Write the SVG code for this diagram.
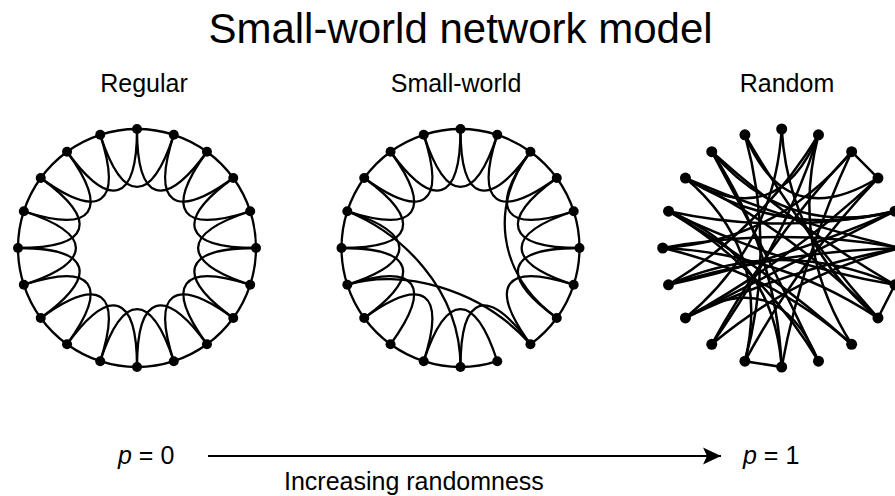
<svg xmlns="http://www.w3.org/2000/svg" width="895" height="496" viewBox="0 0 895 496">
<style>
.e{fill:none;stroke:#000;stroke-width:2.3;stroke-linecap:round}
.r{fill:none;stroke:#000;stroke-width:2.5;stroke-linecap:round}
.n{fill:#000}
.t{font-family:"Liberation Sans",Arial,Helvetica,sans-serif;fill:#000}
</style>
<defs>
<marker id="ah" markerUnits="userSpaceOnUse" markerWidth="20" markerHeight="18" refX="18" refY="9" orient="auto">
<path d="M0,0.5 L18,9 L0,17.5 L4,9 Z" fill="#000"/>
</marker>
</defs>
<rect width="895" height="496" fill="#fff"/>
<text class="t" x="460.5" y="43" font-size="42" text-anchor="middle">Small-world network model</text>
<text class="t" x="144" y="92" font-size="25" text-anchor="middle">Regular</text>
<text class="t" x="456" y="92" font-size="25" text-anchor="middle">Small-world</text>
<text class="t" x="787" y="92" font-size="25" text-anchor="middle">Random</text>

<!-- Regular -->
<g id="regular" transform="translate(137,248)">
<g id="regular-edges">
<path class="e" d="M0,-119 A119,119 0 0 1 36.77,-113.18"/>
<path class="e" d="M36.77,-113.18 A119,119 0 0 1 69.95,-96.27"/>
<path class="e" d="M69.95,-96.27 A119,119 0 0 1 96.27,-69.95"/>
<path class="e" d="M96.27,-69.95 A119,119 0 0 1 113.18,-36.77"/>
<path class="e" d="M113.18,-36.77 A119,119 0 0 1 119,0"/>
<path class="e" d="M119,0 A119,119 0 0 1 113.18,36.77"/>
<path class="e" d="M113.18,36.77 A119,119 0 0 1 96.27,69.95"/>
<path class="e" d="M96.27,69.95 A119,119 0 0 1 69.95,96.27"/>
<path class="e" d="M69.95,96.27 A119,119 0 0 1 36.77,113.18"/>
<path class="e" d="M36.77,113.18 A119,119 0 0 1 0,119"/>
<path class="e" d="M0,119 A119,119 0 0 1 -36.77,113.18"/>
<path class="e" d="M-36.77,113.18 A119,119 0 0 1 -69.95,96.27"/>
<path class="e" d="M-69.95,96.27 A119,119 0 0 1 -96.27,69.95"/>
<path class="e" d="M-96.27,69.95 A119,119 0 0 1 -113.18,36.77"/>
<path class="e" d="M-113.18,36.77 A119,119 0 0 1 -119,0"/>
<path class="e" d="M-119,0 A119,119 0 0 1 -113.18,-36.77"/>
<path class="e" d="M-113.18,-36.77 A119,119 0 0 1 -96.27,-69.95"/>
<path class="e" d="M-96.27,-69.95 A119,119 0 0 1 -69.95,-96.27"/>
<path class="e" d="M-69.95,-96.27 A119,119 0 0 1 -36.77,-113.18"/>
<path class="e" d="M-36.77,-113.18 A119,119 0 0 1 0,-119"/>
<path class="e" d="M0,-119 C0,-46 27.04,-37.21 69.95,-96.27"/>
<path class="e" d="M36.77,-113.18 C14.22,-43.75 37.21,-27.04 96.27,-69.95"/>
<path class="e" d="M69.95,-96.27 C27.04,-37.21 43.75,-14.22 113.18,-36.77"/>
<path class="e" d="M96.27,-69.95 C37.21,-27.04 46,0 119,0"/>
<path class="e" d="M113.18,-36.77 C43.75,-14.22 43.75,14.22 113.18,36.77"/>
<path class="e" d="M119,0 C46,0 37.21,27.04 96.27,69.95"/>
<path class="e" d="M113.18,36.77 C43.75,14.22 27.04,37.21 69.95,96.27"/>
<path class="e" d="M96.27,69.95 C37.21,27.04 14.22,43.75 36.77,113.18"/>
<path class="e" d="M69.95,96.27 C27.04,37.21 0,46 0,119"/>
<path class="e" d="M36.77,113.18 C14.22,43.75 -14.22,43.75 -36.77,113.18"/>
<path class="e" d="M0,119 C0,46 -27.04,37.21 -69.95,96.27"/>
<path class="e" d="M-36.77,113.18 C-14.22,43.75 -37.21,27.04 -96.27,69.95"/>
<path class="e" d="M-69.95,96.27 C-27.04,37.21 -43.75,14.22 -113.18,36.77"/>
<path class="e" d="M-96.27,69.95 C-37.21,27.04 -46,0 -119,0"/>
<path class="e" d="M-113.18,36.77 C-43.75,14.22 -43.75,-14.22 -113.18,-36.77"/>
<path class="e" d="M-119,0 C-46,0 -37.21,-27.04 -96.27,-69.95"/>
<path class="e" d="M-113.18,-36.77 C-43.75,-14.22 -27.04,-37.21 -69.95,-96.27"/>
<path class="e" d="M-96.27,-69.95 C-37.21,-27.04 -14.22,-43.75 -36.77,-113.18"/>
<path class="e" d="M-69.95,-96.27 C-27.04,-37.21 0,-46 0,-119"/>
<path class="e" d="M-36.77,-113.18 C-14.22,-43.75 14.22,-43.75 36.77,-113.18"/>
</g>
<g id="reg-n0"><circle class="n" cx="0" cy="-119" r="5"/></g>
<g id="reg-n1"><circle class="n" cx="36.77" cy="-113.18" r="5"/></g>
<g id="reg-n2"><circle class="n" cx="69.95" cy="-96.27" r="5"/></g>
<g id="reg-n3"><circle class="n" cx="96.27" cy="-69.95" r="5"/></g>
<g id="reg-n4"><circle class="n" cx="113.18" cy="-36.77" r="5"/></g>
<g id="reg-n5"><circle class="n" cx="119" cy="0" r="5"/></g>
<g id="reg-n6"><circle class="n" cx="113.18" cy="36.77" r="5"/></g>
<g id="reg-n7"><circle class="n" cx="96.27" cy="69.95" r="5"/></g>
<g id="reg-n8"><circle class="n" cx="69.95" cy="96.27" r="5"/></g>
<g id="reg-n9"><circle class="n" cx="36.77" cy="113.18" r="5"/></g>
<g id="reg-n10"><circle class="n" cx="0" cy="119" r="5"/></g>
<g id="reg-n11"><circle class="n" cx="-36.77" cy="113.18" r="5"/></g>
<g id="reg-n12"><circle class="n" cx="-69.95" cy="96.27" r="5"/></g>
<g id="reg-n13"><circle class="n" cx="-96.27" cy="69.95" r="5"/></g>
<g id="reg-n14"><circle class="n" cx="-113.18" cy="36.77" r="5"/></g>
<g id="reg-n15"><circle class="n" cx="-119" cy="0" r="5"/></g>
<g id="reg-n16"><circle class="n" cx="-113.18" cy="-36.77" r="5"/></g>
<g id="reg-n17"><circle class="n" cx="-96.27" cy="-69.95" r="5"/></g>
<g id="reg-n18"><circle class="n" cx="-69.95" cy="-96.27" r="5"/></g>
<g id="reg-n19"><circle class="n" cx="-36.77" cy="-113.18" r="5"/></g>
</g>

<!-- Small-world -->
<g id="smallworld" transform="translate(460.5,248)">
<g id="smallworld-edges">
<path class="e" d="M0,-119 A119,119 0 0 1 36.77,-113.18"/>
<path class="e" d="M36.77,-113.18 A119,119 0 0 1 69.95,-96.27"/>
<path class="e" d="M69.95,-96.27 A119,119 0 0 1 96.27,-69.95"/>
<path class="e" d="M96.27,-69.95 A119,119 0 0 1 113.18,-36.77"/>
<path class="e" d="M113.18,-36.77 A119,119 0 0 1 119,0"/>
<path class="e" d="M119,0 A119,119 0 0 1 113.18,36.77"/>
<path class="e" d="M113.18,36.77 A119,119 0 0 1 96.27,69.95"/>
<path class="e" d="M96.27,69.95 A119,119 0 0 1 69.95,96.27"/>
<path class="e" d="M36.77,113.18 A119,119 0 0 1 0,119"/>
<path class="e" d="M0,119 A119,119 0 0 1 -36.77,113.18"/>
<path class="e" d="M-36.77,113.18 A119,119 0 0 1 -69.95,96.27"/>
<path class="e" d="M-69.95,96.27 A119,119 0 0 1 -96.27,69.95"/>
<path class="e" d="M-96.27,69.95 A119,119 0 0 1 -113.18,36.77"/>
<path class="e" d="M-113.18,36.77 A119,119 0 0 1 -119,0"/>
<path class="e" d="M-119,0 A119,119 0 0 1 -113.18,-36.77"/>
<path class="e" d="M-113.18,-36.77 A119,119 0 0 1 -96.27,-69.95"/>
<path class="e" d="M-96.27,-69.95 A119,119 0 0 1 -69.95,-96.27"/>
<path class="e" d="M-69.95,-96.27 A119,119 0 0 1 -36.77,-113.18"/>
<path class="e" d="M-36.77,-113.18 A119,119 0 0 1 0,-119"/>
<path class="e" d="M0,-119 C0,-46 27.04,-37.21 69.95,-96.27"/>
<path class="e" d="M36.77,-113.18 C14.22,-43.75 37.21,-27.04 96.27,-69.95"/>
<path class="e" d="M69.95,-96.27 C27.04,-37.21 43.75,-14.22 113.18,-36.77"/>
<path class="e" d="M96.27,-69.95 C37.21,-27.04 46,0 119,0"/>
<path class="e" d="M113.18,-36.77 C43.75,-14.22 43.75,14.22 113.18,36.77"/>
<path class="e" d="M119,0 C46,0 37.21,27.04 96.27,69.95"/>
<path class="e" d="M113.18,36.77 C43.75,14.22 27.04,37.21 69.95,96.27"/>
<path class="e" d="M69.95,96.27 C27.04,37.21 0,46 0,119"/>
<path class="e" d="M36.77,113.18 C14.22,43.75 -14.22,43.75 -36.77,113.18"/>
<path class="e" d="M-36.77,113.18 C-14.22,43.75 -37.21,27.04 -96.27,69.95"/>
<path class="e" d="M-69.95,96.27 C-27.04,37.21 -43.75,14.22 -113.18,36.77"/>
<path class="e" d="M-96.27,69.95 C-37.21,27.04 -46,0 -119,0"/>
<path class="e" d="M-113.18,36.77 C-43.75,14.22 -43.75,-14.22 -113.18,-36.77"/>
<path class="e" d="M-119,0 C-46,0 -37.21,-27.04 -96.27,-69.95"/>
<path class="e" d="M-113.18,-36.77 C-43.75,-14.22 -27.04,-37.21 -69.95,-96.27"/>
<path class="e" d="M-96.27,-69.95 C-37.21,-27.04 -14.22,-43.75 -36.77,-113.18"/>
<path class="e" d="M-69.95,-96.27 C-27.04,-37.21 0,-46 0,-119"/>
<path class="e" d="M-36.77,-113.18 C-14.22,-43.75 14.22,-43.75 36.77,-113.18"/>
<path class="e" d="M-113.18,36.77 C-60,20 20,40 69.95,96.27"/>
<path class="e" d="M-113.18,-36.77 C-60,-15 0,40 0,119"/>
<path class="e" d="M69.95,-96.27 C30,-45 35,25 96.27,69.95"/>
</g>
<g id="sw-n0"><circle class="n" cx="0" cy="-119" r="5"/></g>
<g id="sw-n1"><circle class="n" cx="36.77" cy="-113.18" r="5"/></g>
<g id="sw-n2"><circle class="n" cx="69.95" cy="-96.27" r="5"/></g>
<g id="sw-n3"><circle class="n" cx="96.27" cy="-69.95" r="5"/></g>
<g id="sw-n4"><circle class="n" cx="113.18" cy="-36.77" r="5"/></g>
<g id="sw-n5"><circle class="n" cx="119" cy="0" r="5"/></g>
<g id="sw-n6"><circle class="n" cx="113.18" cy="36.77" r="5"/></g>
<g id="sw-n7"><circle class="n" cx="96.27" cy="69.95" r="5"/></g>
<g id="sw-n8"><circle class="n" cx="69.95" cy="96.27" r="5"/></g>
<g id="sw-n9"><circle class="n" cx="36.77" cy="113.18" r="5"/></g>
<g id="sw-n10"><circle class="n" cx="0" cy="119" r="5"/></g>
<g id="sw-n11"><circle class="n" cx="-36.77" cy="113.18" r="5"/></g>
<g id="sw-n12"><circle class="n" cx="-69.95" cy="96.27" r="5"/></g>
<g id="sw-n13"><circle class="n" cx="-96.27" cy="69.95" r="5"/></g>
<g id="sw-n14"><circle class="n" cx="-113.18" cy="36.77" r="5"/></g>
<g id="sw-n15"><circle class="n" cx="-119" cy="0" r="5"/></g>
<g id="sw-n16"><circle class="n" cx="-113.18" cy="-36.77" r="5"/></g>
<g id="sw-n17"><circle class="n" cx="-96.27" cy="-69.95" r="5"/></g>
<g id="sw-n18"><circle class="n" cx="-69.95" cy="-96.27" r="5"/></g>
<g id="sw-n19"><circle class="n" cx="-36.77" cy="-113.18" r="5"/></g>
</g>

<!-- Random -->
<g id="random" transform="translate(781.7,248)">
<g id="random-edges">
<path class="r" d="M69.95,-96.27 L96.27,-69.95"/>
<path class="r" d="M0,119 L-36.77,113.18"/>
<path class="r" d="M113.18,36.77 L96.27,69.95"/>
<path class="r" d="M0,-119 Q-7.22,-3.68 -96.27,69.95"/>
<path class="r" d="M0,-119 Q7.22,-3.68 96.27,69.95"/>
<path class="r" d="M36.77,-113.18 Q-20,-20 -113.18,36.77"/>
<path class="r" d="M36.77,-113.18 Q5,-10 -69.95,96.27"/>
<path class="r" d="M36.77,-113.18 Q-4.46,-13.73 -96.27,-69.95"/>
<path class="r" d="M36.77,-113.18 Q8,-1.27 69.95,96.27"/>
<path class="r" d="M-36.77,-113.18 Q4.46,-13.73 96.27,-69.95"/>
<path class="r" d="M-36.77,-113.18 Q20,-15 96.27,69.95"/>
<path class="r" d="M-36.77,-113.18 Q-5.52,0 -36.77,113.18"/>
<path class="r" d="M-69.95,-96.27 Q-15,5 36.77,113.18"/>
<path class="r" d="M-69.95,-96.27 Q15,-20 113.18,36.77"/>
<path class="r" d="M-69.95,-96.27 Q-5.25,1.7 0,119"/>
<path class="r" d="M-69.95,-96.27 Q3.24,-9.98 113.18,-36.77"/>
<path class="r" d="M-96.27,-69.95 Q12,-17 96.27,69.95"/>
<path class="r" d="M-96.27,-69.95 Q1.27,-8 113.18,-36.77"/>
<path class="r" d="M-96.27,-69.95 Q10,-25 119,0"/>
<path class="r" d="M-96.27,-69.95 Q-9.98,3.24 -36.77,113.18"/>
<path class="r" d="M-113.18,-36.77 Q0,-12 113.18,-36.77"/>
<path class="r" d="M-113.18,-36.77 Q0,18 113.18,36.77"/>
<path class="r" d="M-113.18,-36.77 Q-8.49,6.17 0,119"/>
<path class="r" d="M-113.18,-36.77 Q-20,18 36.77,113.18"/>
<path class="r" d="M-113.18,-36.77 Q-15,20 69.95,96.27"/>
<path class="r" d="M-119,0 Q0,-22 119,0"/>
<path class="r" d="M-119,0 Q-3.68,-7.22 69.95,-96.27"/>
<path class="r" d="M-119,0 Q-10,25 69.95,96.27"/>
<path class="r" d="M-119,0 Q-1.7,5.25 96.27,69.95"/>
<path class="r" d="M-113.18,36.77 Q0.44,2.76 119,0"/>
<path class="r" d="M-113.18,36.77 Q0,-13 113.18,36.77"/>
<path class="r" d="M-113.18,36.77 Q3.7,11.4 113.18,-36.77"/>
<path class="r" d="M-96.27,69.95 Q8.8,12.1 96.27,-69.95"/>
<path class="r" d="M-96.27,69.95 Q10,15 113.18,-36.77"/>
<path class="r" d="M-96.27,69.95 Q-4.46,13.73 36.77,113.18"/>
<path class="r" d="M-96.27,69.95 Q8,20 119,0"/>
<path class="r" d="M-69.95,96.27 Q-12.1,-8.8 69.95,-96.27"/>
<path class="r" d="M-69.95,96.27 Q15,25 119,0"/>
<path class="r" d="M-36.77,113.18 Q18,12 96.27,-69.95"/>
<path class="r" d="M0,119 Q20,10 69.95,-96.27"/>
</g>
<g id="rnd-n0"><circle class="n" cx="0" cy="-119" r="5.5"/></g>
<g id="rnd-n1"><circle class="n" cx="36.77" cy="-113.18" r="5.5"/></g>
<g id="rnd-n2"><circle class="n" cx="69.95" cy="-96.27" r="5.5"/></g>
<g id="rnd-n3"><circle class="n" cx="96.27" cy="-69.95" r="5.5"/></g>
<g id="rnd-n4"><circle class="n" cx="113.18" cy="-36.77" r="5.5"/></g>
<g id="rnd-n5"><circle class="n" cx="119" cy="0" r="5.5"/></g>
<g id="rnd-n6"><circle class="n" cx="113.18" cy="36.77" r="5.5"/></g>
<g id="rnd-n7"><circle class="n" cx="96.27" cy="69.95" r="5.5"/></g>
<g id="rnd-n8"><circle class="n" cx="69.95" cy="96.27" r="5.5"/></g>
<g id="rnd-n9"><circle class="n" cx="36.77" cy="113.18" r="5.5"/></g>
<g id="rnd-n10"><circle class="n" cx="0" cy="119" r="5.5"/></g>
<g id="rnd-n11"><circle class="n" cx="-36.77" cy="113.18" r="5.5"/></g>
<g id="rnd-n12"><circle class="n" cx="-69.95" cy="96.27" r="5.5"/></g>
<g id="rnd-n13"><circle class="n" cx="-96.27" cy="69.95" r="5.5"/></g>
<g id="rnd-n14"><circle class="n" cx="-113.18" cy="36.77" r="5.5"/></g>
<g id="rnd-n15"><circle class="n" cx="-119" cy="0" r="5.5"/></g>
<g id="rnd-n16"><circle class="n" cx="-113.18" cy="-36.77" r="5.5"/></g>
<g id="rnd-n17"><circle class="n" cx="-96.27" cy="-69.95" r="5.5"/></g>
<g id="rnd-n18"><circle class="n" cx="-69.95" cy="-96.27" r="5.5"/></g>
<g id="rnd-n19"><circle class="n" cx="-36.77" cy="-113.18" r="5.5"/></g>
</g>

<!-- Bottom axis -->
<g id="axis">
<line x1="208" y1="456" x2="721" y2="456" stroke="#000" stroke-width="1.8" marker-end="url(#ah)"/>
</g>
<text class="t" x="118" y="464" font-size="25"><tspan font-style="italic">p</tspan> = 0</text>
<text class="t" x="743" y="464" font-size="25"><tspan font-style="italic">p</tspan> = 1</text>
<text class="t" x="284" y="490" font-size="25">Increasing randomness</text>
</svg>
